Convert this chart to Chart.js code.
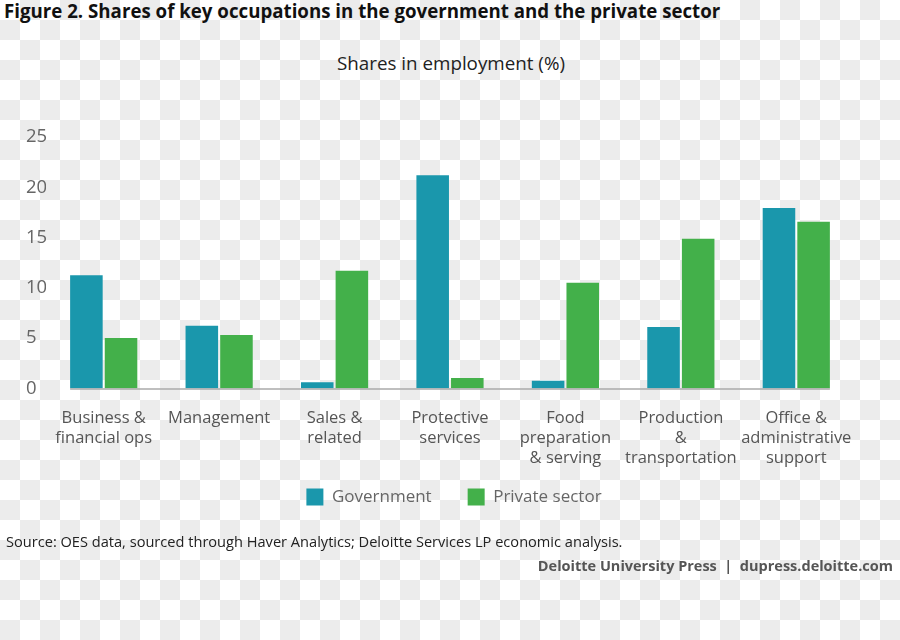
<!DOCTYPE html>
<html>
<head>
<meta charset="utf-8">
<script src="https://cdn.jsdelivr.net/npm/chart.js@4"></script>
<style>
  html, body { margin: 0; padding: 0; }
  body {
    width: 900px; height: 640px; position: relative; overflow: hidden;
    font-family: "Open Sans", sans-serif;
    /* transparent-png checkerboard seen in the reference */
    background: conic-gradient(#ececec 0 25%, #fff 0 50%, #ececec 0 75%, #fff 0) 0 0 / 40px 40px;
  }
  #wrap { position: absolute; left: 0; top: 0; width: 900px; height: 560px; }
  .txt { position: absolute; white-space: nowrap; }
  #title { left: 4px; top: -1px; font-size: 18.7px; line-height: 24px; font-weight: 700; color: #111; }
  #subtitle { left: 0; width: 902px; text-align: center; top: 53px; font-size: 18.8px; line-height: 20px; color: #222; }
  #source { left: 6px; top: 532px; font-size: 14.6px; line-height: 18px; color: #222; }
  #credit { right: 7px; top: 557px; font-size: 14.5px; line-height: 18px; font-weight: 700; color: #555; }
</style>
</head>
<body>
<div class="txt" id="title">Figure 2. Shares of key occupations in the government and the private sector</div>
<div class="txt" id="subtitle">Shares in employment (%)</div>
<div id="wrap"><canvas id="chart"></canvas></div>
<div class="txt" id="source">Source: OES data, sourced through Haver Analytics; Deloitte Services LP economic analysis.</div>
<div class="txt" id="credit">Deloitte University Press &nbsp;|&nbsp; dupress.deloitte.com</div>
<script>
// ── DATOS ──
const categories = [
  ['Business &', 'financial ops'],
  'Management',
  ['Sales &', 'related'],
  ['Protective', 'services'],
  ['Food', 'preparation', '& serving'],
  ['Production', '&', 'transportation'],
  ['Office &', 'administrative', 'support']
];
const government    = [11.25, 6.24, 0.62, 21.19, 0.78, 6.11, 17.94];
const privateSector = [5.02, 5.32, 11.71, 1.04, 10.52, 14.89, 16.58];
const seriesNames = ['Government', 'Private sector'];
const yTicks = [0, 5, 10, 15, 20, 25];

const TEAL = '#1a97ac';
const GREEN = '#43b04a';

// línea base gris solo bajo las barras
const baseline = {
  id: 'baseline',
  afterDatasetsDraw(chart) {
    const first = chart.getDatasetMeta(0).data[0];
    const last = chart.getDatasetMeta(1).data[categories.length - 1];
    const y = chart.scales.y.getPixelForValue(0);
    const ctx = chart.ctx;
    ctx.save();
    ctx.strokeStyle = '#aaaaaa';
    ctx.lineWidth = 1.5;
    ctx.beginPath();
    ctx.moveTo(first.x - first.width / 2, y + 0.5);
    ctx.lineTo(last.x + last.width / 2, y + 0.5);
    ctx.stroke();
    ctx.restore();
  }
};

// la leyenda va un poco más arriba y a la derecha que su caja por defecto
const legendShift = {
  id: 'legendShift',
  afterLayout(chart) {
    const l = chart.legend;
    l.left += 14; l.right += 14;
    l.top -= 26; l.bottom -= 26;
  }
};

new Chart(document.getElementById('chart'), {
  type: 'bar',
  data: {
    labels: categories,
    datasets: [
      { label: seriesNames[0], data: government, backgroundColor: TEAL },
      { label: seriesNames[1], data: privateSector, backgroundColor: GREEN }
    ]
  },
  options: {
    responsive: true,
    maintainAspectRatio: false,
    animation: false,
    categoryPercentage: 0.6,
    barPercentage: 0.94,
    layout: { padding: { left: 26, right: 46, top: 137, bottom: 18.5 } },
    plugins: {
      tooltip: { enabled: false },
      legend: {
        position: 'bottom',
        labels: {
          boxWidth: 17, boxHeight: 17, padding: 36,
          color: '#666', font: { family: 'Open Sans', size: 17 }
        }
      }
    },
    scales: {
      x: {
        grid: { display: false },
        border: { display: false },
        ticks: {
          color: '#555', padding: 12, maxRotation: 0, autoSkip: false,
          font: { family: 'Open Sans', size: 16.5, lineHeight: 1.2 }
        },
        afterFit(axis) { axis.height = 90; }
      },
      y: {
        min: 0, max: 25,
        grid: { display: false },
        border: { display: false },
        afterBuildTicks(axis) { axis.ticks = yTicks.map(v => ({ value: v })); },
        ticks: {
          crossAlign: 'far', color: '#666',
          font: { family: 'Open Sans', size: 18.5 }
        },
        afterFit(axis) { axis.width = 20; }
      }
    }
  },
  plugins: [baseline, legendShift]
});
</script>
</body>
</html>
